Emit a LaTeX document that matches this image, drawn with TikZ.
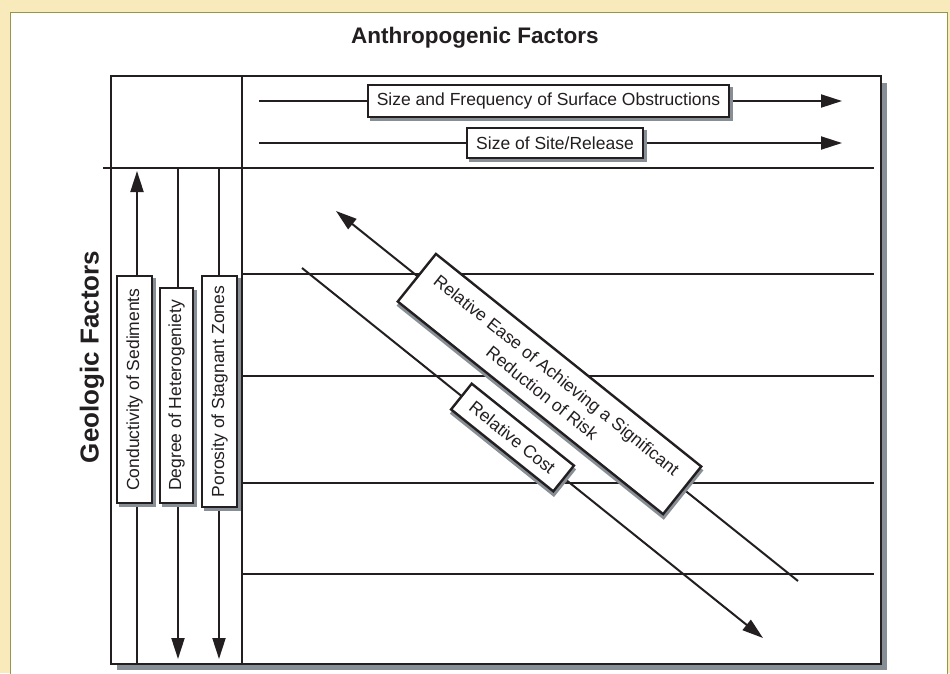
\documentclass[tikz,border=0pt]{standalone}
\usepackage{fontspec}
\setmainfont{Liberation Sans}
\usetikzlibrary{arrows.meta,calc}
\definecolor{bgyellow}{RGB}{248,234,186}
\definecolor{paneledge}{RGB}{150,150,70}
\definecolor{shadowgray}{RGB}{135,142,149}
\definecolor{ink}{RGB}{35,31,32}
\begin{document}
\begin{tikzpicture}[x=1pt,y=-1pt,
  thinline/.style={draw=ink,line width=2pt},
  arr/.style={thinline,-{Triangle[length=21pt,width=13pt]}},
  labelbox/.style={draw=ink,fill=white,line width=2.4pt,inner sep=0pt,
    font=\fontsize{17.5}{23}\selectfont,text=ink,align=center},
  labelshadow/.style={draw=shadowgray,fill=shadowgray,line width=2.4pt,inner sep=0pt},
  title/.style={font=\fontsize{22.5}{26}\selectfont\bfseries,text=ink},
  sidetitle/.style={font=\fontsize{26}{30}\selectfont\bfseries,text=ink}]
\useasboundingbox (0,0) rectangle (950,673);
% background and panel
\fill[bgyellow] (0,0) rectangle (950,673);
\draw[paneledge,fill=white,line width=1.5pt] (10.5,12.5) rectangle (947.5,690);
% main box with shadow
\fill[shadowgray] (117,83) rectangle (887,670);
\draw[ink,fill=white,line width=2.6pt] (111,76) rectangle (881,664);
% titles
\node[title] (anthro) at (475,38) {Anthropogenic Factors};
\node[sidetitle,rotate=90] (geo) at (92,357) {Geologic Factors};
% grid lines
\coordinate (vdt) at (242,76); \coordinate (vdb) at (242,664);
\draw[thinline] (vdt) -- (vdb);
\coordinate (hdl) at (103,167.5); \coordinate (hdr) at (874,167.5);
\draw[thinline] (hdl) -- (hdr);
\foreach \yy [count=\i] in {274,375.5,482.5,574}{
  \coordinate (hl\i) at (242,\yy); \coordinate (hr\i) at (874,\yy);
  \draw[thinline] (hl\i) -- (hr\i);
}
% top arrows
\coordinate (r1s) at (259,101); \coordinate (r1e) at (842,101);
\draw[arr] (r1s) -- (r1e);
\coordinate (r2s) at (259,143); \coordinate (r2e) at (842,143);
\draw[arr] (r2s) -- (r2e);
\node[labelshadow,minimum width=361pt,minimum height=32pt] at (551.5,104) {};
\node[labelbox,minimum width=361pt,minimum height=32pt] (sizefreq) at (548.5,101) {Size and Frequency of Surface Obstructions};
\node[labelshadow,minimum width=176pt,minimum height=30pt] at (558,146) {};
\node[labelbox,minimum width=176pt,minimum height=30pt] (sitesize) at (555,143) {Size of Site/Release};
% column arrows
\coordinate (c1b) at (137,663); \coordinate (c1t) at (137,171);
\draw[arr] (c1b) -- (c1t);
\coordinate (c2t) at (178,168.5); \coordinate (c2b) at (178,659);
\draw[arr] (c2t) -- (c2b);
\coordinate (c3t) at (219,168.5); \coordinate (c3b) at (219,659);
\draw[arr] (c3t) -- (c3b);
\node[labelshadow,rotate=90,minimum width=227pt,minimum height=35pt] at (137.5,392.5) {};
\node[labelbox,rotate=90,minimum width=227pt,minimum height=35pt] (cond) at (134.5,389.5) {Conductivity of Sediments};
\node[labelshadow,rotate=90,minimum width=215pt,minimum height=33pt] at (179.5,398.5) {};
\node[labelbox,rotate=90,minimum width=215pt,minimum height=33pt] (hetero) at (176.5,395.5) {Degree of Heterogeniety};
\node[labelshadow,rotate=90,minimum width=231pt,minimum height=35pt] at (222.5,394.5) {};
\node[labelbox,rotate=90,minimum width=231pt,minimum height=35pt] (poro) at (219.5,391.5) {Porosity of Stagnant Zones};
% diagonal arrows
\coordinate (es) at (798,581); \coordinate (ee) at (336,211);
\draw[arr] (es) -- (ee);
\coordinate (cs) at (302,268); \coordinate (ce) at (763,638);
\draw[arr] (cs) -- (ce);
\node[labelshadow,rotate=-38.7,minimum width=340pt,minimum height=61pt] at (550,388) {};
\node[labelbox,rotate=-38.7,minimum width=340pt,minimum height=61pt] (ease) at (549.5,384) {Relative Ease of Achieving a Significant\\Reduction of Risk};
\node[labelshadow,rotate=-38.7,minimum width=131pt,minimum height=33pt] at (513,441.5) {};
\node[labelbox,rotate=-38.7,minimum width=131pt,minimum height=33pt] (cost) at (512.5,437.5) {Relative Cost};
\end{tikzpicture}
\end{document}
